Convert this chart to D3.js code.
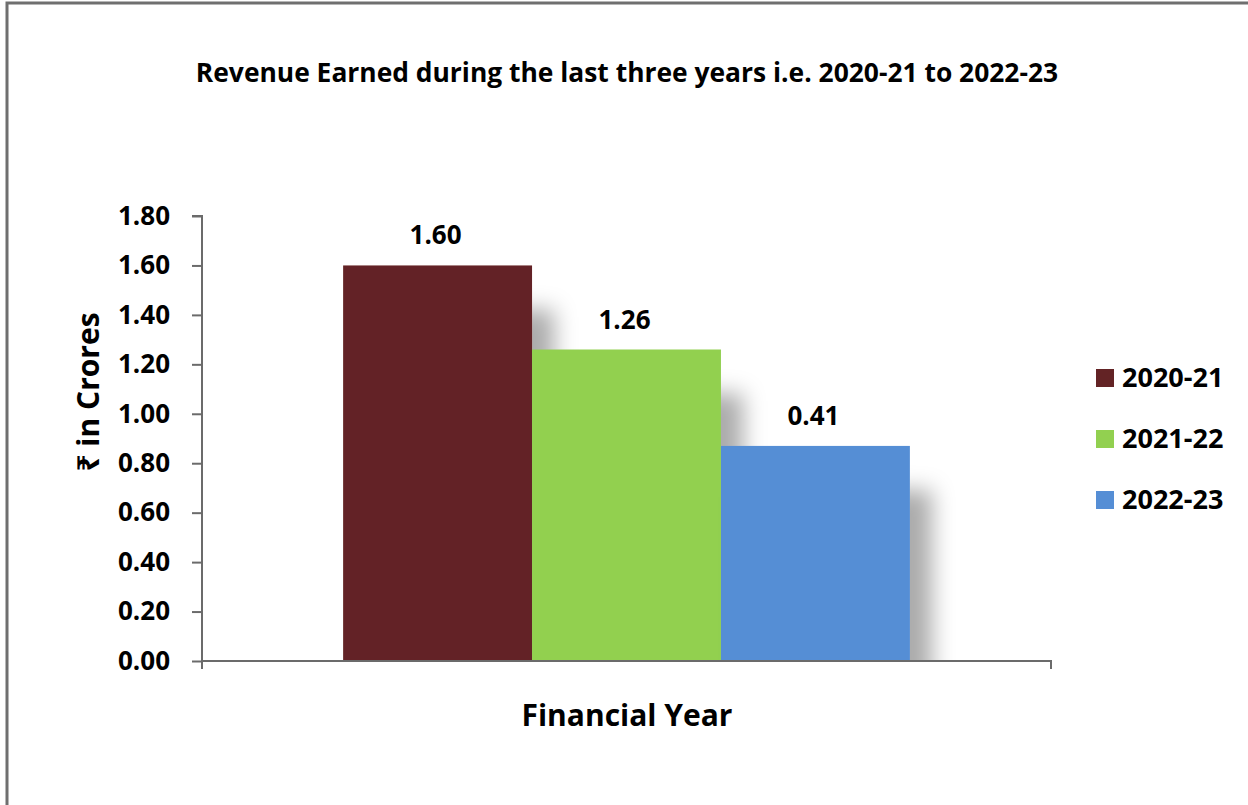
<!DOCTYPE html>
<html>
<head>
<meta charset="utf-8">
<script src="https://cdn.jsdelivr.net/npm/d3@7"></script>
<style>
  body { margin: 0; background: #fff; }
  svg text { font-family: "Open Sans", "Noto Sans", sans-serif; font-weight: bold; fill: #000; }
</style>
</head>
<body>
<svg></svg>
<script>
  // chart data
  const categories = ["Financial Year"];
  const years = ["2020-21", "2021-22", "2022-23"];
  const revenue = [1.60, 1.26, 0.87];
  const valueLabels = ["1.60", "1.26", "0.41"];
  const colors = ["#632325", "#92D050", "#558ED5"];
  const yTicks = [0, 0.2, 0.4, 0.6, 0.8, 1.0, 1.2, 1.4, 1.6, 1.8];

  const width = 1248, height = 805;
  const svg = d3.select("svg")
    .attr("width", width)
    .attr("height", height);

  // outer frame
  svg.append("rect")
    .attr("x", 7).attr("y", 3)
    .attr("width", width).attr("height", height)
    .attr("fill", "#fff")
    .attr("stroke", "#6f6f6f")
    .attr("stroke-width", 3);

  const plotLeft = 202, plotRight = 1051, plotTop = 216, plotBottom = 661;

  // shadow filter + clip so the shadow stays above the axis
  const defs = svg.append("defs");
  const f = defs.append("filter").attr("id", "shadow")
    .attr("x", "-20%").attr("y", "-20%").attr("width", "160%").attr("height", "160%");
  f.append("feDropShadow")
    .attr("dx", 22).attr("dy", 44)
    .attr("stdDeviation", 11)
    .attr("flood-color", "#000")
    .attr("flood-opacity", 0.33);
  defs.append("clipPath").attr("id", "plotclip")
    .append("rect")
    .attr("x", 0).attr("y", 0)
    .attr("width", width).attr("height", plotBottom);

  const y = d3.scaleLinear().domain([0, 1.8]).range([plotBottom, plotTop]);
  const x0 = d3.scaleBand().domain(categories).range([plotLeft, plotRight]).paddingOuter(0.249).paddingInner(0);
  const x1 = d3.scaleBand().domain(years).range([0, x0.bandwidth()]);

  // title
  svg.append("text")
    .attr("x", 627).attr("y", 82)
    .attr("text-anchor", "middle")
    .style("font-size", "26.4px")
    .text("Revenue Earned during the last three years i.e. 2020-21 to 2022-23");

  // bars
  const g = svg.append("g").attr("clip-path", "url(#plotclip)");
  g.selectAll("rect")
    .data(years)
    .enter()
    .append("rect")
    .attr("x", (d) => x0(categories[0]) + x1(d))
    .attr("y", (d, i) => y(revenue[i]))
    .attr("width", x1.bandwidth())
    .attr("height", (d, i) => plotBottom - y(revenue[i]))
    .attr("fill", (d, i) => colors[i])
    .attr("filter", "url(#shadow)");

  // value labels
  svg.selectAll(".lbl")
    .data(years)
    .enter()
    .append("text")
    .attr("class", "lbl")
    .attr("x", (d) => x0(categories[0]) + x1(d) + x1.bandwidth() / 2 - 2)
    .attr("y", (d, i) => y(revenue[i]) - 21)
    .attr("text-anchor", "middle")
    .style("font-size", "26px")
    .text((d, i) => valueLabels[i]);

  // y axis
  const yAxis = svg.append("g")
    .attr("transform", `translate(${plotLeft},0)`)
    .call(d3.axisLeft(y).tickValues(yTicks).tickFormat(d3.format(".2f")).tickSize(10).tickPadding(22));
  yAxis.select(".domain").attr("stroke", "#6b6b6b").attr("stroke-width", 2)
    .attr("d", `M-10,${plotTop}H0V${plotBottom + 8}`);
  yAxis.selectAll(".tick line").attr("stroke", "#6b6b6b").attr("stroke-width", 2);
  yAxis.selectAll(".tick text")
    .style("font-size", "26px")
    .attr("fill", "#000");

  // x axis
  const xAxis = svg.append("g")
    .attr("transform", `translate(0,${plotBottom})`)
    .call(d3.axisBottom(x0).tickValues([]).tickSizeOuter(8));
  xAxis.select(".domain").attr("stroke", "#6b6b6b").attr("stroke-width", 2)
    .attr("d", `M${plotLeft},0H${plotRight}V8`);

  // axis titles
  svg.append("text")
    .attr("x", 627).attr("y", 726)
    .attr("text-anchor", "middle")
    .style("font-size", "30px")
    .text("Financial Year");

  svg.append("text")
    .attr("transform", "translate(99,392) rotate(-90)")
    .attr("text-anchor", "middle")
    .style("font-size", "30px")
    .text("₹ in Crores");

  // legend
  const legend = svg.append("g").attr("transform", "translate(1096,369)");
  const item = legend.selectAll("g")
    .data(years)
    .enter()
    .append("g")
    .attr("transform", (d, i) => `translate(0,${i * 61})`);
  item.append("rect")
    .attr("width", 18).attr("height", 18)
    .attr("fill", (d, i) => colors[i]);
  item.append("text")
    .attr("x", 26).attr("y", 18)
    .style("font-size", "27px")
    .text((d) => d);
</script>
</body>
</html>
